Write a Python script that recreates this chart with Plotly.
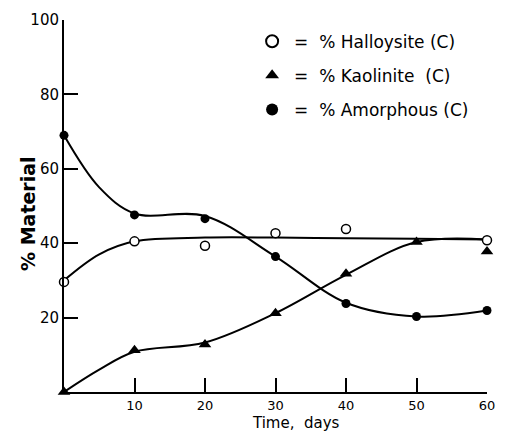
import plotly.graph_objects as go

# Measured points
days = [0, 10, 20, 30, 40, 60]
halloysite = [29.6, 40.5, 39.3, 42.7, 43.8, 40.8]

days_k = [0, 10, 20, 30, 40, 50, 60]
kaolinite = [0, 11.2, 12.8, 21.2, 31.8, 40.3, 37.8]

days_a = [0, 10, 20, 30, 40, 50, 60]
amorphous = [69, 47.6, 46.6, 36.4, 23.8, 20.3, 21.9]

# Hand-drawn smooth curves
curve_x = [0, 5, 10, 20, 30, 40, 50, 60]
halloysite_curve = [30, 37, 40.5, 41.5, 41.5, 41.3, 41.2, 41]
kaolinite_curve = [0, 6, 10.8, 13.3, 21.2, 31.5, 40.3, 41]
amorphous_curve = [69, 55, 48, 47.3, 36.4, 24, 20.3, 21.9]

x_ticks = [10, 20, 30, 40, 50, 60]
y_ticks = [20, 40, 60, 80, 100]

FONT = "DejaVu Sans"
fig = go.Figure()

for y in [halloysite_curve, kaolinite_curve, amorphous_curve]:
    fig.add_trace(go.Scatter(x=curve_x, y=y, mode="lines",
                             line=dict(color="black", width=2, shape="spline", smoothing=1.0),
                             showlegend=False, hoverinfo="skip", cliponaxis=False))

fig.add_trace(go.Scatter(x=days, y=halloysite, mode="markers", name="=  % Halloysite (C)",
                         legendgroup="h",
                         marker=dict(symbol="circle", size=9, color="white",
                                     line=dict(color="black", width=1.5)), cliponaxis=False))
fig.add_trace(go.Scatter(x=days_k, y=kaolinite, mode="markers", name="=  % Kaolinite  (C)",
                         legendgroup="k",
                         marker=dict(symbol="triangle-up", size=11, color="black"), cliponaxis=False))
fig.add_trace(go.Scatter(x=days_a, y=amorphous, mode="markers", name="=  % Amorphous (C)",
                         legendgroup="a",
                         marker=dict(symbol="circle", size=9, color="black"), cliponaxis=False))

fig.update_layout(
    width=506, height=433,
    margin=dict(l=64, r=11, t=20, b=41),
    paper_bgcolor="white", plot_bgcolor="white",
    font=dict(family=FONT, color="black", size=14),
    legend=dict(x=0.44, y=0.99, xanchor="left", yanchor="top",
                font=dict(size=17, family=FONT), bgcolor="rgba(0,0,0,0)",
                itemsizing="constant", tracegroupgap=9, itemwidth=34),
    xaxis=dict(range=[0, 60], tickvals=x_ticks, ticks="inside", ticklen=14, tickwidth=1.5,
               tickcolor="black", showline=True, linecolor="black", linewidth=2,
               showgrid=False, zeroline=False, tickfont=dict(size=13)),
    yaxis=dict(range=[0, 100], tickvals=y_ticks, ticks="inside", ticklen=14, tickwidth=1.5,
               tickcolor="black", showline=True, linecolor="black", linewidth=2,
               showgrid=False, zeroline=False, tickfont=dict(size=15)),
    annotations=[
        dict(text="Time,  days", xref="paper", yref="paper", x=0.5, y=0,
             xshift=20, yshift=-41, xanchor="center", yanchor="bottom", borderpad=0,
             showarrow=False, font=dict(size=15)),
        dict(text="<b>% Material</b>", xref="paper", yref="paper", x=0, y=0.5,
             xshift=-36, yshift=-8, xanchor="center", yanchor="middle", textangle=-90,
             showarrow=False, font=dict(size=19)),
    ],
)

fig.write_html("out.html")
